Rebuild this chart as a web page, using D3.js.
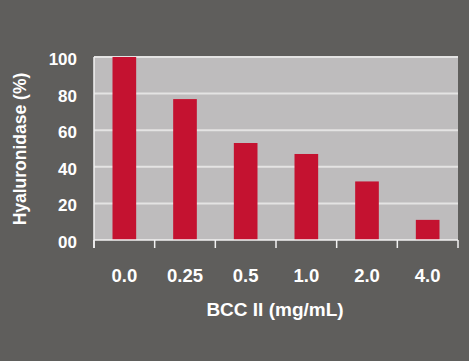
<!DOCTYPE html>
<html>
<head>
<meta charset="utf-8">
<script src="https://cdn.jsdelivr.net/npm/d3@7"></script>
<style>
  html, body { margin: 0; padding: 0; background: #5f5e5c; }
  svg { display: block; }
  text { font-family: "Liberation Sans", Arial, Helvetica, sans-serif; font-weight: bold; fill: #ffffff; }
</style>
</head>
<body>
<script>
const categories = ["0.0", "0.25", "0.5", "1.0", "2.0", "4.0"];
const values = [100, 77, 53, 47, 32, 11];
const yTicks = [0, 20, 40, 60, 80, 100];
const yTickLabels = ["00", "20", "40", "60", "80", "100"];
const xTitle = "BCC II (mg/mL)";
const yTitle = "Hyaluronidase (%)";

const W = 469, H = 361;
const m = { left: 94, right: 11, top: 57, bottom: 121 };

const svg = d3.select("body").append("svg").attr("width", W).attr("height", H);
svg.append("rect").attr("width", W).attr("height", H).attr("fill", "#5f5e5c");

const x = d3.scaleBand().domain(categories).range([m.left, W - m.right]).paddingInner(0.61).paddingOuter(0.305);
const y = d3.scaleLinear().domain([0, 100]).range([H - m.bottom, m.top]);

// plot background
svg.append("rect")
  .attr("x", m.left).attr("y", y(100))
  .attr("width", W - m.right - m.left).attr("height", y(0) - y(100))
  .attr("fill", "#bebcbd");

// gridlines
svg.append("g").selectAll("line").data(yTicks.filter(d => d > 0)).join("line")
  .attr("x1", m.left).attr("x2", W - m.right)
  .attr("y1", d => y(d)).attr("y2", d => y(d))
  .attr("stroke", "#e4e3e3").attr("stroke-width", 2);

// bars
svg.append("g").selectAll("rect").data(values).join("rect")
  .attr("x", (d, i) => x(categories[i]))
  .attr("y", d => y(d))
  .attr("width", x.bandwidth())
  .attr("height", d => y(0) - y(d))
  .attr("fill", "#c41230");

// x axis
const step = x.step();
const xBoundaries = categories.map(c => x(c) - x.bandwidth() * 0 - (step - x.bandwidth()) / 2).concat([W - m.right]);
const gx = svg.append("g");
gx.append("line").attr("x1", m.left).attr("x2", W - m.right)
  .attr("y1", y(0)).attr("y2", y(0)).attr("stroke", "#f2f2f2").attr("stroke-width", 1.5);
gx.selectAll("line.tick").data(xBoundaries).join("line").attr("class", "tick")
  .attr("x1", d => d).attr("x2", d => d)
  .attr("y1", y(0)).attr("y2", y(0) + 8)
  .attr("stroke", "#f2f2f2").attr("stroke-width", 1.5);
gx.selectAll("text").data(categories).join("text")
  .attr("x", d => x(d) + x.bandwidth() / 2)
  .attr("y", y(0) + 42)
  .attr("text-anchor", "middle")
  .attr("font-size", 18.5)
  .text(d => d);

// y axis
const gy = svg.append("g");
gy.append("line").attr("x1", m.left).attr("x2", m.left)
  .attr("y1", y(100)).attr("y2", y(0) + 8).attr("stroke", "#f2f2f2").attr("stroke-width", 1.5);
gy.selectAll("text").data(yTicks).join("text")
  .attr("x", 77)
  .attr("y", d => y(d) + 8)
  .attr("text-anchor", "end")
  .attr("font-size", 17)
  .text((d, i) => yTickLabels[i]);

// titles
svg.append("text")
  .attr("x", 275).attr("y", 316)
  .attr("text-anchor", "middle")
  .attr("font-size", 19)
  .text(xTitle);
svg.append("text")
  .attr("transform", "translate(26,149) rotate(-90)")
  .attr("text-anchor", "middle")
  .attr("font-size", 17.5)
  .text(yTitle);
</script>
</body>
</html>
